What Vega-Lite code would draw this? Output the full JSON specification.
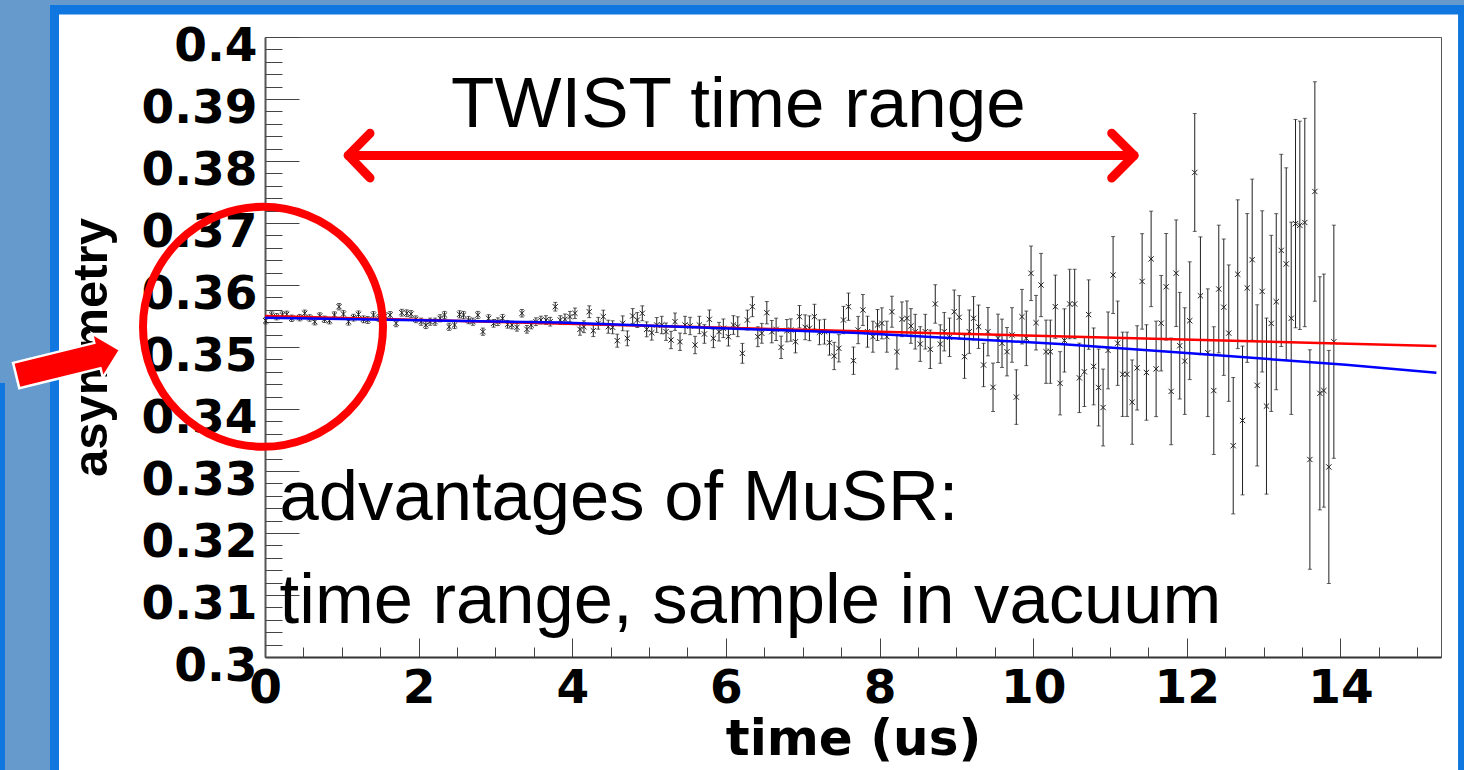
{
  "$schema": "https://vega.github.io/schema/vega-lite/v6.json",
  "width": 1176,
  "height": 620,
  "autosize": {"type": "none"},
  "padding": {"left": 265, "top": 37, "right": 23, "bottom": 113},
  "background": "#ffffff",
  "view": {"stroke": "#555555", "strokeWidth": 1},
  "data": {"values": [{}]},
  "datasets": {
    "musr": [
      {"t":0.009,"a":0.35424,"e":0.00052},{"t":0.087,"a":0.35516,"e":0.00052},{"t":0.152,"a":0.35489,"e":0.00052},{"t":0.227,"a":0.35516,"e":0.00052},{"t":0.283,"a":0.35527,"e":0.00052},{"t":0.348,"a":0.35463,"e":0.00052},{"t":0.452,"a":0.35473,"e":0.00052},{"t":0.517,"a":0.35544,"e":0.00052},{"t":0.582,"a":0.35468,"e":0.00052},{"t":0.648,"a":0.35408,"e":0.00052},
      {"t":0.713,"a":0.355,"e":0.00052},{"t":0.774,"a":0.35447,"e":0.00052},{"t":0.839,"a":0.35424,"e":0.00052},{"t":0.904,"a":0.35516,"e":0.00052},{"t":0.964,"a":0.3565,"e":0.00052},{"t":1.021,"a":0.35532,"e":0.00055},{"t":1.087,"a":0.35408,"e":0.00055},{"t":1.152,"a":0.35473,"e":0.00055},{"t":1.217,"a":0.35527,"e":0.00055},{"t":1.282,"a":0.35447,"e":0.00055},
      {"t":1.338,"a":0.35435,"e":0.00055},{"t":1.412,"a":0.35516,"e":0.00055},{"t":1.481,"a":0.35468,"e":0.00055},{"t":1.56,"a":0.355,"e":0.00055},{"t":1.629,"a":0.35516,"e":0.00055},{"t":1.707,"a":0.35382,"e":0.00055},{"t":1.781,"a":0.35553,"e":0.00055},{"t":1.846,"a":0.35544,"e":0.00055},{"t":1.902,"a":0.35532,"e":0.00055},{"t":1.964,"a":0.35447,"e":0.00055},
      {"t":2.033,"a":0.35408,"e":0.00058},{"t":2.094,"a":0.35355,"e":0.00058},{"t":2.15,"a":0.35408,"e":0.00058},{"t":2.215,"a":0.35408,"e":0.00058},{"t":2.28,"a":0.35463,"e":0.00058},{"t":2.337,"a":0.35516,"e":0.00058},{"t":2.397,"a":0.35327,"e":0.00058},{"t":2.468,"a":0.35355,"e":0.00058},{"t":2.533,"a":0.35527,"e":0.00058},{"t":2.585,"a":0.35516,"e":0.00058},
      {"t":2.65,"a":0.35435,"e":0.00058},{"t":2.706,"a":0.35408,"e":0.00058},{"t":2.771,"a":0.35516,"e":0.00058},{"t":2.837,"a":0.35247,"e":0.00058},{"t":2.911,"a":0.35463,"e":0.00058},{"t":2.976,"a":0.35382,"e":0.00062},{"t":3.032,"a":0.35408,"e":0.00062},{"t":3.093,"a":0.35463,"e":0.00062},{"t":3.158,"a":0.35366,"e":0.00062},{"t":3.214,"a":0.35355,"e":0.00062},
      {"t":3.28,"a":0.35318,"e":0.00062},{"t":3.345,"a":0.35544,"e":0.00062},{"t":3.41,"a":0.35285,"e":0.00062},{"t":3.466,"a":0.35355,"e":0.00062},{"t":3.527,"a":0.35408,"e":0.00062},{"t":3.592,"a":0.35435,"e":0.00062},{"t":3.657,"a":0.35435,"e":0.0007},{"t":3.713,"a":0.35408,"e":0.0007},{"t":3.779,"a":0.3565,"e":0.0007},{"t":3.844,"a":0.35435,"e":0.0007},
      {"t":3.905,"a":0.35447,"e":0.00085},{"t":3.97,"a":0.35489,"e":0.00085},{"t":4.035,"a":0.35544,"e":0.00085},{"t":4.1,"a":0.35285,"e":0.00095},{"t":4.152,"a":0.35327,"e":0.00095},{"t":4.221,"a":0.35569,"e":0.00095},{"t":4.274,"a":0.35263,"e":0.00095},{"t":4.339,"a":0.35382,"e":0.00095},{"t":4.404,"a":0.35489,"e":0.00105},{"t":4.469,"a":0.35327,"e":0.00105},
      {"t":4.526,"a":0.35318,"e":0.00105},{"t":4.586,"a":0.35102,"e":0.00105},{"t":4.657,"a":0.35382,"e":0.0012},{"t":4.717,"a":0.3514,"e":0.0012},{"t":4.787,"a":0.355,"e":0.0012},{"t":4.847,"a":0.35435,"e":0.0012},{"t":4.912,"a":0.35544,"e":0.0012},{"t":4.969,"a":0.35285,"e":0.0012},{"t":5.035,"a":0.35231,"e":0.0012},{"t":5.1,"a":0.35355,"e":0.0012},
      {"t":5.165,"a":0.35355,"e":0.0014},{"t":5.221,"a":0.35247,"e":0.0014},{"t":5.286,"a":0.35113,"e":0.0014},{"t":5.338,"a":0.35408,"e":0.0014},{"t":5.403,"a":0.35085,"e":0.0014},{"t":5.468,"a":0.35355,"e":0.0014},{"t":5.534,"a":0.35339,"e":0.0014},{"t":5.599,"a":0.35032,"e":0.0014},{"t":5.655,"a":0.35355,"e":0.0014},{"t":5.72,"a":0.3521,"e":0.0015},
      {"t":5.785,"a":0.35447,"e":0.0015},{"t":5.837,"a":0.3514,"e":0.0015},{"t":5.911,"a":0.35247,"e":0.0015},{"t":5.967,"a":0.35302,"e":0.0015},{"t":6.033,"a":0.35166,"e":0.0015},{"t":6.098,"a":0.35355,"e":0.0015},{"t":6.155,"a":0.35327,"e":0.0016},{"t":6.215,"a":0.34898,"e":0.0016},{"t":6.28,"a":0.35435,"e":0.0016},{"t":6.345,"a":0.3565,"e":0.0016},
      {"t":6.416,"a":0.35166,"e":0.0016},{"t":6.468,"a":0.35221,"e":0.0016},{"t":6.533,"a":0.35553,"e":0.0018},{"t":6.598,"a":0.35247,"e":0.0018},{"t":6.654,"a":0.35285,"e":0.0018},{"t":6.719,"a":0.34995,"e":0.0018},{"t":6.794,"a":0.35263,"e":0.0018},{"t":6.846,"a":0.35274,"e":0.0018},{"t":6.906,"a":0.35085,"e":0.0018},{"t":6.958,"a":0.35489,"e":0.0018},
      {"t":7.032,"a":0.35318,"e":0.002},{"t":7.088,"a":0.35302,"e":0.002},{"t":7.153,"a":0.35489,"e":0.002},{"t":7.218,"a":0.35237,"e":0.002},{"t":7.283,"a":0.35247,"e":0.002},{"t":7.349,"a":0.35069,"e":0.002},{"t":7.41,"a":0.34855,"e":0.0022},{"t":7.471,"a":0.34979,"e":0.0022},{"t":7.531,"a":0.35435,"e":0.0022},{"t":7.596,"a":0.3565,"e":0.0022},
      {"t":7.661,"a":0.34779,"e":0.0022},{"t":7.722,"a":0.35274,"e":0.0022},{"t":7.784,"a":0.35597,"e":0.0025},{"t":7.844,"a":0.35247,"e":0.0025},{"t":7.914,"a":0.35166,"e":0.0025},{"t":7.974,"a":0.35355,"e":0.0025},{"t":8.031,"a":0.35382,"e":0.0025},{"t":8.096,"a":0.35166,"e":0.0025},{"t":8.162,"a":0.35569,"e":0.0025},{"t":8.227,"a":0.34924,"e":0.0028},
      {"t":8.292,"a":0.35447,"e":0.0028},{"t":8.357,"a":0.35463,"e":0.0028},{"t":8.409,"a":0.35339,"e":0.0028},{"t":8.465,"a":0.35247,"e":0.0028},{"t":8.53,"a":0.35048,"e":0.0028},{"t":8.596,"a":0.35247,"e":0.0028},{"t":8.661,"a":0.34963,"e":0.0031},{"t":8.726,"a":0.35694,"e":0.0031},{"t":8.791,"a":0.35048,"e":0.0031},{"t":8.843,"a":0.35247,"e":0.0031},
      {"t":8.912,"a":0.35156,"e":0.0031},{"t":8.973,"a":0.35569,"e":0.0035},{"t":9.038,"a":0.35479,"e":0.0035},{"t":9.107,"a":0.34844,"e":0.0035},{"t":9.169,"a":0.35247,"e":0.0035},{"t":9.225,"a":0.35463,"e":0.0035},{"t":9.29,"a":0.35327,"e":0.0035},{"t":9.355,"a":0.3471,"e":0.0035},{"t":9.412,"a":0.35247,"e":0.0039},{"t":9.478,"a":0.3435,"e":0.0039},
      {"t":9.543,"a":0.3514,"e":0.0039},{"t":9.595,"a":0.3506,"e":0.0039},{"t":9.66,"a":0.34924,"e":0.0039},{"t":9.725,"a":0.35194,"e":0.0044},{"t":9.781,"a":0.34192,"e":0.0044},{"t":9.855,"a":0.35489,"e":0.0044},{"t":9.911,"a":0.3514,"e":0.0044},{"t":9.973,"a":0.36189,"e":0.0044},{"t":10.038,"a":0.35392,"e":0.0044},{"t":10.103,"a":0.36,"e":0.0051},
      {"t":10.168,"a":0.34924,"e":0.0051},{"t":10.224,"a":0.34924,"e":0.0051},{"t":10.289,"a":0.3565,"e":0.0051},{"t":10.351,"a":0.34415,"e":0.0051},{"t":10.407,"a":0.35106,"e":0.0051},{"t":10.476,"a":0.35694,"e":0.0056},{"t":10.541,"a":0.35694,"e":0.0056},{"t":10.602,"a":0.34502,"e":0.0056},{"t":10.667,"a":0.346,"e":0.0056},{"t":10.723,"a":0.35523,"e":0.0056},
      {"t":10.788,"a":0.34687,"e":0.0062},{"t":10.853,"a":0.34347,"e":0.0062},{"t":10.911,"a":0.34024,"e":0.0062},{"t":10.976,"a":0.34945,"e":0.0062},{"t":11.041,"a":0.36161,"e":0.0062},{"t":11.101,"a":0.35061,"e":0.0068},{"t":11.166,"a":0.3456,"e":0.0068},{"t":11.223,"a":0.3456,"e":0.0068},{"t":11.289,"a":0.34111,"e":0.0068},{"t":11.354,"a":0.34663,"e":0.0068},
      {"t":11.419,"a":0.36058,"e":0.0077},{"t":11.475,"a":0.34589,"e":0.0077},{"t":11.536,"a":0.36421,"e":0.0077},{"t":11.601,"a":0.34647,"e":0.0077},{"t":11.667,"a":0.35384,"e":0.0077},{"t":11.732,"a":0.35971,"e":0.0086},{"t":11.797,"a":0.34284,"e":0.0086},{"t":11.862,"a":0.3619,"e":0.0086},{"t":11.909,"a":0.35021,"e":0.0086},{"t":11.974,"a":0.34773,"e":0.0086},
      {"t":12.039,"a":0.35424,"e":0.0095},{"t":12.104,"a":0.37815,"e":0.0095},{"t":12.178,"a":0.35826,"e":0.0095},{"t":12.274,"a":0.34908,"e":0.0103},{"t":12.352,"a":0.34297,"e":0.0103},{"t":12.417,"a":0.35935,"e":0.0103},{"t":12.482,"a":0.35642,"e":0.011},{"t":12.547,"a":0.35224,"e":0.011},{"t":12.605,"a":0.33408,"e":0.011},{"t":12.664,"a":0.36174,"e":0.012},
      {"t":12.726,"a":0.33815,"e":0.012},{"t":12.787,"a":0.35952,"e":0.012},{"t":12.852,"a":0.36408,"e":0.013},{"t":12.917,"a":0.34381,"e":0.013},{"t":12.982,"a":0.35897,"e":0.013},{"t":13.038,"a":0.34047,"e":0.0142},{"t":13.1,"a":0.35381,"e":0.0142},{"t":13.165,"a":0.35731,"e":0.0142},{"t":13.23,"a":0.36558,"e":0.0155},{"t":13.295,"a":0.3634,"e":0.0155},
      {"t":13.36,"a":0.35463,"e":0.0155},{"t":13.416,"a":0.3699,"e":0.0168},{"t":13.472,"a":0.36963,"e":0.0168},{"t":13.537,"a":0.37008,"e":0.0168},{"t":13.603,"a":0.33185,"e":0.0177},{"t":13.668,"a":0.37508,"e":0.0177},{"t":13.733,"a":0.34253,"e":0.0188},{"t":13.785,"a":0.34297,"e":0.0188},{"t":13.85,"a":0.33065,"e":0.0188},{"t":13.915,"a":0.35085,"e":0.0188}
    ],
    "fits": [
      {"fit":"red","t":0,"a":0.355},{"fit":"red","t":15.25,"a":0.35016},
      {"fit":"blue","t":0,"a":0.35473},{"fit":"blue","t":3.84,"a":0.35395},{"fit":"blue","t":7.73,"a":0.35226},{"fit":"blue","t":10.35,"a":0.35048},{"fit":"blue","t":12.18,"a":0.34887},{"fit":"blue","t":14.07,"a":0.34713},{"fit":"blue","t":15.25,"a":0.34585}
    ],
    "span": [
      {"part":"shaft","k":0,"t":1.085,"a":0.38089},{"part":"shaft","k":1,"t":11.314,"a":0.38089},
      {"part":"left","k":0,"t":1.367,"a":0.38447},{"part":"left","k":1,"t":1.085,"a":0.38089},{"part":"left","k":2,"t":1.367,"a":0.37726},
      {"part":"right","k":0,"t":11.023,"a":0.38447},{"part":"right","k":1,"t":11.314,"a":0.38089},{"part":"right","k":2,"t":11.023,"a":0.37726}
    ]
  },
  "resolve": {"axis": {"x": "independent", "y": "independent"}},
  "layer": [
    {
      "mark": {"type": "rect", "color": "#6699cc"},
      "encoding": {
        "x": {"datum": -3.6, "type": "quantitative", "axis": null}, "x2": {"datum": 16},
        "y": {"datum": 0.41, "type": "quantitative", "axis": null}, "y2": {"datum": 0.40516}
      }
    },
    {
      "mark": {"type": "rect", "color": "#6699cc"},
      "encoding": {
        "x": {"datum": -3.6, "type": "quantitative", "axis": null}, "x2": {"datum": -2.799},
        "y": {"datum": 0.41, "type": "quantitative", "axis": null}, "y2": {"datum": 0.27}
      }
    },
    {
      "mark": {"type": "rect", "color": "#1076e0"},
      "encoding": {
        "x": {"datum": -2.799, "type": "quantitative", "axis": null}, "x2": {"datum": 16},
        "y": {"datum": 0.40516, "type": "quantitative", "axis": null}, "y2": {"datum": 0.40363}
      }
    },
    {
      "mark": {"type": "rect", "color": "#1076e0"},
      "encoding": {
        "x": {"datum": -2.799, "type": "quantitative", "axis": null}, "x2": {"datum": -2.682},
        "y": {"datum": 0.40516, "type": "quantitative", "axis": null}, "y2": {"datum": 0.27}
      }
    },
    {
      "mark": {"type": "rect", "color": "#1076e0"},
      "encoding": {
        "x": {"datum": 15.532, "type": "quantitative", "axis": null}, "x2": {"datum": 16},
        "y": {"datum": 0.40516, "type": "quantitative", "axis": null}, "y2": {"datum": 0.27}
      }
    },
    {
      "mark": {"type": "rect", "color": "#1076e0"},
      "encoding": {
        "x": {"datum": -3.6, "type": "quantitative", "axis": null}, "x2": {"datum": -3.385},
        "y": {"datum": 0.34419, "type": "quantitative", "axis": null}, "y2": {"datum": 0.27}
      }
    },
    {
      "data": {"name": "musr"},
      "mark": {"type": "errorbar", "color": "#222222", "thickness": 1, "ticks": {"size": 4, "color": "#222222"}},
      "encoding": {
        "x": {"field": "t", "type": "quantitative", "axis": null},
        "y": {"field": "a", "type": "quantitative", "axis": null},
        "yError": {"field": "e"}
      }
    },
    {
      "data": {"name": "musr"},
      "mark": {"type": "point", "shape": "M-1,-1L1,1M1,-1L-1,1", "size": 28, "filled": false, "stroke": "#222222", "strokeWidth": 1, "opacity": 1},
      "encoding": {
        "x": {
          "field": "t", "type": "quantitative",
          "scale": {"domain": [0, 15.31], "nice": false, "zero": false},
          "axis": {
            "orient": "bottom",
            "title": "time (us)",
            "values": [0, 2, 4, 6, 8, 10, 12, 14],
            "format": "d",
            "tickSize": -19,
            "tickColor": "#444444", "tickWidth": 1,
            "domainColor": "#333333", "domainWidth": 2,
            "grid": false,
            "labelPadding": 27, "labelFlush": false, "labelOverlap": false, "labelBound": false,
            "labelFont": "DejaVu Sans", "labelFontWeight": "bold", "labelFontSize": 47, "labelColor": "#000000", "labelBaseline": "top",
            "titleFont": "DejaVu Sans", "titleFontWeight": "bold", "titleFontSize": 50, "titleColor": "#000000", "titlePadding": 3
          }
        },
        "y": {
          "field": "a", "type": "quantitative",
          "scale": {"domain": [0.3, 0.4], "nice": false, "zero": false},
          "axis": {
            "orient": "left",
            "title": "asymmetry",
            "values": [0.3, 0.31, 0.32, 0.33, 0.34, 0.35, 0.36, 0.37, 0.38, 0.39, 0.4],
            "format": ".2~f",
            "tickSize": -34,
            "tickColor": "#444444", "tickWidth": 1,
            "domainColor": "#555555", "domainWidth": 2,
            "grid": false,
            "labelPadding": 42, "labelOffset": 9, "labelOverlap": false, "labelBound": false, "labelFlush": false,
            "labelFont": "DejaVu Sans", "labelFontWeight": "bold", "labelFontSize": 47, "labelColor": "#000000",
            "titleFont": "Liberation Sans", "titleFontWeight": "bold", "titleFontSize": 49, "titleColor": "#000000", "titlePadding": 25
          }
        }
      }
    },
    {
      "data": {"name": "fits"},
      "mark": {"type": "line", "strokeWidth": 2.5},
      "encoding": {
        "x": {
          "field": "t", "type": "quantitative",
          "axis": {
            "orient": "bottom", "title": null, "labels": false, "domain": false, "grid": false,
            "values": [0.5, 1, 1.5, 2.5, 3, 3.5, 4.5, 5, 5.5, 6.5, 7, 7.5, 8.5, 9, 9.5, 10.5, 11, 11.5, 12.5, 13, 13.5, 14.5, 15],
            "tickSize": -10, "tickColor": "#444444", "tickWidth": 1
          }
        },
        "y": {
          "field": "a", "type": "quantitative",
          "axis": {
            "orient": "left", "title": null, "labels": false, "domain": false, "grid": false,
            "values": [0.302,0.304,0.306,0.308,0.312,0.314,0.316,0.318,0.322,0.324,0.326,0.328,0.332,0.334,0.336,0.338,0.342,0.344,0.346,0.348,0.352,0.354,0.356,0.358,0.362,0.364,0.366,0.368,0.372,0.374,0.376,0.378,0.382,0.384,0.386,0.388,0.392,0.394,0.396,0.398],
            "tickSize": -17, "tickColor": "#444444", "tickWidth": 1
          }
        },
        "color": {"field": "fit", "type": "nominal", "scale": {"domain": ["red", "blue"], "range": ["#ff0000", "#0000ff"]}, "legend": null}
      }
    },
    {
      "mark": {"type": "text", "text": "TWIST time range", "font": "Liberation Sans", "fontSize": 71, "align": "left", "baseline": "alphabetic", "color": "#000000"},
      "encoding": {
        "x": {"datum": 2.422, "type": "quantitative", "axis": null},
        "y": {"datum": 0.38548, "type": "quantitative", "axis": null}
      }
    },
    {
      "mark": {"type": "text", "text": "advantages of MuSR:", "font": "Liberation Sans", "fontSize": 70.6, "align": "left", "baseline": "alphabetic", "color": "#000000"},
      "encoding": {
        "x": {"datum": 0.19, "type": "quantitative", "axis": null},
        "y": {"datum": 0.3221, "type": "quantitative", "axis": null}
      }
    },
    {
      "mark": {"type": "text", "text": "time range, sample in vacuum", "font": "Liberation Sans", "fontSize": 70.6, "align": "left", "baseline": "alphabetic", "color": "#000000"},
      "encoding": {
        "x": {"datum": 0.19, "type": "quantitative", "axis": null},
        "y": {"datum": 0.30553, "type": "quantitative", "axis": null}
      }
    },
    {
      "data": {"name": "span"},
      "mark": {"type": "line", "color": "#ff0000", "strokeWidth": 9, "strokeCap": "round", "strokeJoin": "round"},
      "encoding": {
        "x": {"field": "t", "type": "quantitative", "axis": null},
        "y": {"field": "a", "type": "quantitative", "axis": null},
        "detail": {"field": "part", "type": "nominal"},
        "order": {"field": "k", "type": "quantitative"}
      }
    },
    {
      "mark": {"type": "point", "shape": "circle", "filled": false, "size": 57600, "stroke": "#ff0000", "strokeWidth": 8, "opacity": 1},
      "encoding": {
        "x": {"datum": -0.026, "type": "quantitative", "axis": null},
        "y": {"datum": 0.35326, "type": "quantitative", "axis": null}
      }
    },
    {
      "mark": {"type": "point", "shape": "M-1,-0.243L0.563,-0.243L0.563,-0.425L1,0L0.563,0.425L0.563,0.243L-1,0.243Z", "filled": true, "fill": "#ff0000", "stroke": "#ffffff", "strokeWidth": 2.5, "size": 11449, "angle": -13.8, "opacity": 1},
      "encoding": {
        "x": {"datum": -2.563, "type": "quantitative", "axis": null},
        "y": {"datum": 0.34746, "type": "quantitative", "axis": null}
      }
    }
  ]
}
